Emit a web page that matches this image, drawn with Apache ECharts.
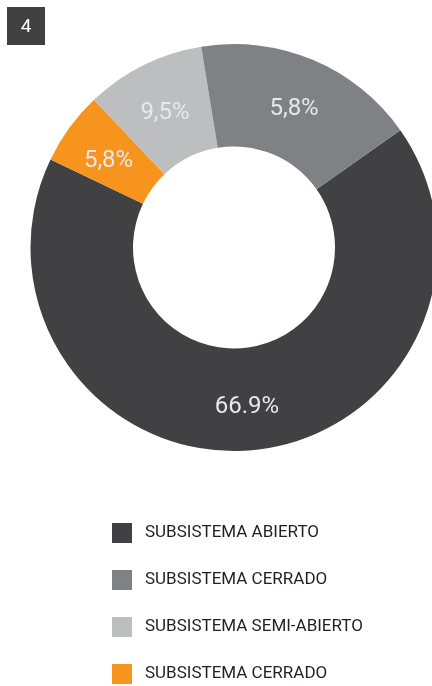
<!DOCTYPE html>
<html><head><meta charset="utf-8">
<script src="https://cdn.jsdelivr.net/npm/echarts@6/dist/echarts.min.js"></script>
<style>html,body{margin:0;padding:0;background:#fff}#c{width:432px;height:686px}</style>
</head><body><div id="c"></div>
<script>
const categories = ['SUBSISTEMA ABIERTO', 'SUBSISTEMA CERRADO', 'SUBSISTEMA SEMI-ABIERTO', 'SUBSISTEMA CERRADO '];
const values = [66.9, 17.8, 9.5, 5.8];
const sliceLabels = ['66.9%', '5,8%', '9,5%', '5,8%'];
const colors = ['#414042', '#808184', '#bcbec0', '#f7941e'];
// drawing order clockwise: abierto, orange cerrado, semi-abierto, gray cerrado
const drawOrder = [0, 3, 2, 1];

const FONT = 'Roboto';
const chart = echarts.init(document.getElementById('c'));
chart.setOption({
  animation: false,
  graphic: [{
    type: 'group', left: 7, top: 7,
    children: [
      {type: 'rect', shape: {x: 0, y: 0, width: 38, height: 38}, style: {fill: '#414042'}},
      {type: 'text', x: 19, y: 20, style: {text: '4', fill: '#fff', font: '19px Roboto', align: 'center', verticalAlign: 'middle'}}
    ]
  }],
  legend: {
    orient: 'vertical', left: 112, top: 523, padding: 0,
    itemWidth: 20, itemHeight: 20, itemGap: 27,
    icon: 'rect',
    data: categories,
    formatter: n => n.trim(),
    textStyle: {fontFamily: FONT, fontSize: 17, color: '#231f20', padding: [2, 0, 0, 8]}
  },
  series: [{
    type: 'pie',
    center: [234, 247.5],
    radius: [101, 203.5],
    startAngle: 35.2,
    clockwise: true,
    avoidLabelOverlap: false,
    emphasis: {disabled: true},
    label: {
      show: true, position: 'inside',
      formatter: p => sliceLabels[drawOrder[p.dataIndex]],
      fontFamily: FONT, fontSize: 24, color: '#e8e8e9',
      offset: [0, 5]
    },
    labelLine: {show: false},
    data: drawOrder.map(i => ({name: categories[i], value: values[i], itemStyle: {color: colors[i]}}))
  }]
});
</script></body></html>
